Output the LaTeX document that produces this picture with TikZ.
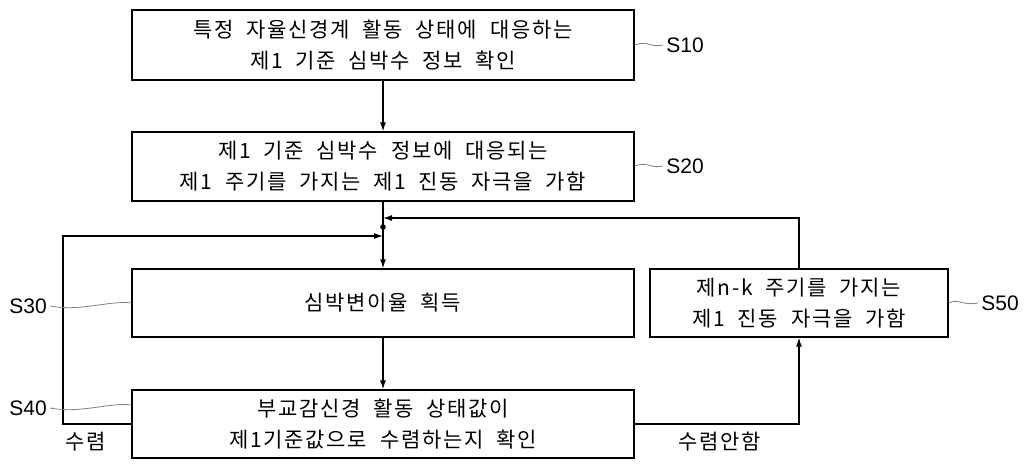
\documentclass[tikz,border=0pt]{standalone}
\usepackage{fontspec}
\setmainfont{Liberation Sans}
\newfontfamily\kr[LetterSpace=8,WordSpace=2]{Noto Sans CJK KR}
\usetikzlibrary{arrows.meta}
\begin{document}
\begin{tikzpicture}[x=1pt,y=-1pt,
  box/.style={draw,line width=1.3pt,inner sep=0pt,align=center,font=\kr\fontsize{21}{31}\selectfont},
  lbl/.style={font=\fontsize{21}{21}\selectfont},
  lead/.style={gray,line width=0.8pt},
  arr/.style={line width=1.2pt,-{Latex[length=9pt,width=6pt]}},
  ln/.style={line width=1.2pt}]
\useasboundingbox (0,0) rectangle (1024,469);
\node[box,minimum width=502pt,minimum height=70pt] (s10) at (383,45) {특정 자율신경계 활동 상태에 대응하는\\제1 기준 심박수 정보 확인};
\node[box,minimum width=502pt,minimum height=69pt] (s20) at (383,166.5) {제1 기준 심박수 정보에 대응되는\\제1 주기를 가지는 제1 진동 자극을 가함};
\node[box,minimum width=502pt,minimum height=68pt] (s30) at (383,303) {심박변이율 획득};
\node[box,minimum width=502pt,minimum height=68pt] (s40) at (383,424) {부교감신경 활동 상태값이\\제1기준값으로 수렴하는지 확인};
\node[box,minimum width=298pt,minimum height=68pt] (s50) at (799,303) {제n-k 주기를 가지는\\제1 진동 자극을 가함};
\coordinate (j) at (383,227);
\coordinate (jt) at (383,218);
\coordinate (jl) at (383,236);
\fill (j) circle (2.8pt);
\draw[arr] (s10) -- (s20);
\draw[ln] (s20) -- (j);
\draw[arr] (j) -- (s30);
\draw[arr] (s30) -- (s40);
\draw[arr] (s40.west) -| (63,236) -- (jl);
\draw[arr] (s40.east) -| (s50.south);
\draw[arr] (s50.north) |- (jt);
\node[font=\kr\fontsize{21}{21}\selectfont] (c1) at (86,442) {수렴};
\node[font=\kr\fontsize{21}{21}\selectfont] (c2) at (720,442) {수렴안함};
\node[lbl] (l10) at (685,45) {S10};
\node[lbl] (l20) at (685,166) {S20};
\node[lbl] (l50) at (1000,303) {S50};
\node[lbl] (l30) at (28,306) {S30};
\node[lbl] (l40) at (28,408) {S40};
\draw[lead] (s10.east |- 0,45) .. controls (648,40) and (650,48) .. (l10.west);
\draw[lead] (s20.east |- 0,166) .. controls (648,161) and (650,169) .. (l20.west);
\draw[lead] (s50.east) .. controls (960,298) and (962,306) .. (l50.west);
\draw[lead] (l30.east) .. controls (80,312) and (110,300) .. (s30.west);
\draw[lead] (l40.east) .. controls (80,414) and (110,402) .. (s40.west |- 0,405);
\end{tikzpicture}
\end{document}
